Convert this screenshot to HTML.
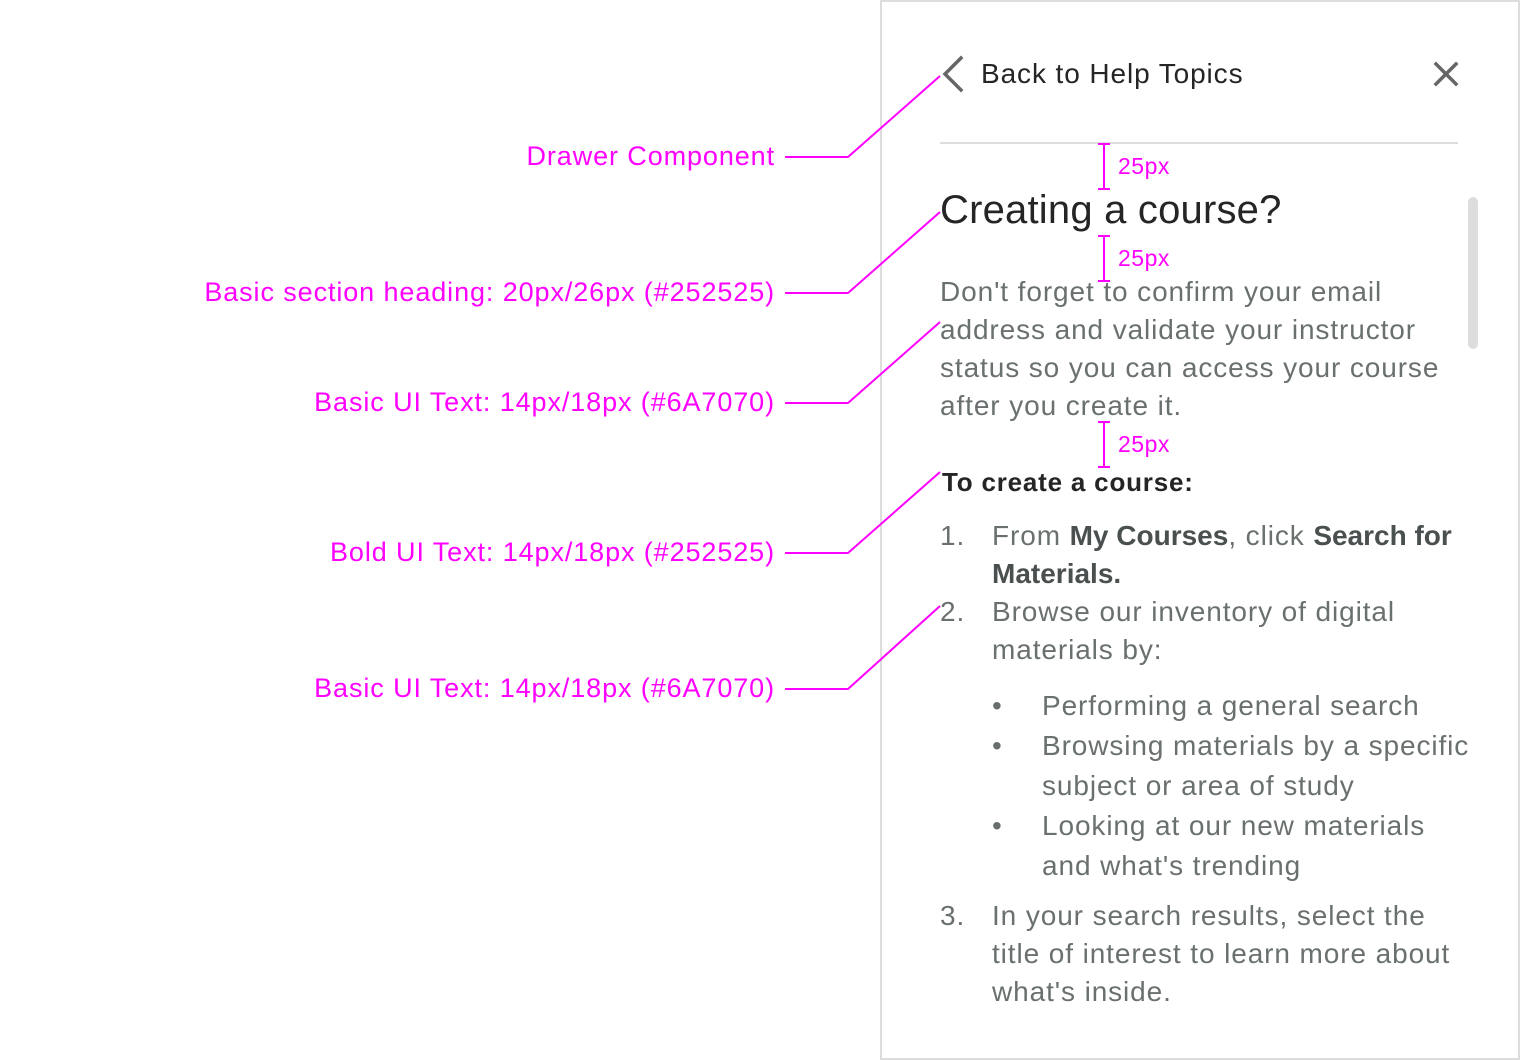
<!DOCTYPE html>
<html><head><meta charset="utf-8"><style>
body{margin:0;width:1520px;height:1040px;background:#fff;position:relative;overflow:hidden;font-family:"Liberation Sans",sans-serif}
.a{position:absolute;right:745px;color:#f0f;font-size:27px;line-height:38px;white-space:nowrap;letter-spacing:0.9px}
.t{position:absolute;left:940px;font-size:28px;line-height:38px;color:#6a7070;white-space:nowrap;letter-spacing:0.9px}
.b{color:#4a5050;font-weight:bold;letter-spacing:0px}
.m{position:absolute;color:#f0f;font-size:23px;line-height:30px;left:1118px;letter-spacing:0.5px}
</style></head><body>
<div style="position:absolute;left:880px;top:0;width:640px;height:1060px;border:2px solid #ddd;box-sizing:border-box"></div>
<div style="position:absolute;left:1468px;top:197px;width:10px;height:152px;background:#ddd;border-radius:5px"></div>
<div style="position:absolute;left:940px;top:142px;width:518px;height:2px;background:#ddd"></div>

<svg width="1520" height="1040" style="position:absolute;left:0;top:0">
<g stroke="#666" stroke-width="3.5" fill="none" stroke-linecap="square">
<polyline points="961,58 945,74 961,90"/>
<line x1="1436" y1="64" x2="1456" y2="84"/><line x1="1456" y1="64" x2="1436" y2="84"/>
</g>
<g stroke="#f0f" stroke-width="2" fill="none">
<polyline points="785,157 848,157 940,76"/>
<polyline points="785,293 848,293 940,212"/>
<polyline points="785,403 848,403 940,322"/>
<polyline points="785,553 848,553 940,472"/>
<polyline points="785,689 848,689 940,606"/>
<line x1="1104" y1="144" x2="1104" y2="189"/><line x1="1098" y1="144" x2="1110" y2="144"/><line x1="1098" y1="189" x2="1110" y2="189"/>
<line x1="1104" y1="236" x2="1104" y2="281"/><line x1="1098" y1="236" x2="1110" y2="236"/><line x1="1098" y1="281" x2="1110" y2="281"/>
<line x1="1104" y1="422" x2="1104" y2="467"/><line x1="1098" y1="422" x2="1110" y2="422"/><line x1="1098" y1="467" x2="1110" y2="467"/>
</g></svg>

<div class="a" style="top:137px">Drawer Component</div>
<div class="a" style="top:273px">Basic section heading: 20px/26px (#252525)</div>
<div class="a" style="top:383px">Basic UI Text: 14px/18px (#6A7070)</div>
<div class="a" style="top:533px">Bold UI Text: 14px/18px (#252525)</div>
<div class="a" style="top:669px">Basic UI Text: 14px/18px (#6A7070)</div>

<div class="m" style="top:151px">25px</div>
<div class="m" style="top:243px">25px</div>
<div class="m" style="top:429px">25px</div>

<div class="t" style="left:981px;top:55px;color:#252525;font-size:28px;letter-spacing:0.9px">Back to Help Topics</div>
<div class="t" style="top:186px;color:#252525;font-size:40px;line-height:48px;letter-spacing:0.2px">Creating a course?</div>
<div class="t" style="top:273px">Don't forget to confirm your email</div>
<div class="t" style="top:311px">address and validate your instructor</div>
<div class="t" style="top:349px">status so you can access your course</div>
<div class="t" style="top:387px">after you create it.</div>
<div class="t" style="left:942px;top:463px;color:#252525;font-weight:bold;font-size:26px;letter-spacing:0.8px">To create a course:</div>
<div class="t" style="top:517px">1.</div>
<div class="t" style="left:992px;top:517px">From <span class="b">My Courses</span>, click <span class="b">Search for</span></div>
<div class="t" style="left:992px;top:555px"><span class="b">Materials.</span></div>
<div class="t" style="top:593px">2.</div>
<div class="t" style="left:992px;top:593px">Browse our inventory of digital</div>
<div class="t" style="left:992px;top:631px">materials by:</div>
<div class="t" style="left:992px;top:687px">•</div>
<div class="t" style="left:1042px;top:687px">Performing a general search</div>
<div class="t" style="left:992px;top:727px">•</div>
<div class="t" style="left:1042px;top:727px">Browsing materials by a specific</div>
<div class="t" style="left:1042px;top:767px">subject or area of study</div>
<div class="t" style="left:992px;top:807px">•</div>
<div class="t" style="left:1042px;top:807px">Looking at our new materials</div>
<div class="t" style="left:1042px;top:847px">and what's trending</div>
<div class="t" style="top:897px">3.</div>
<div class="t" style="left:992px;top:897px">In your search results, select the</div>
<div class="t" style="left:992px;top:935px">title of interest to learn more about</div>
<div class="t" style="left:992px;top:973px">what's inside.</div>
</body></html>
